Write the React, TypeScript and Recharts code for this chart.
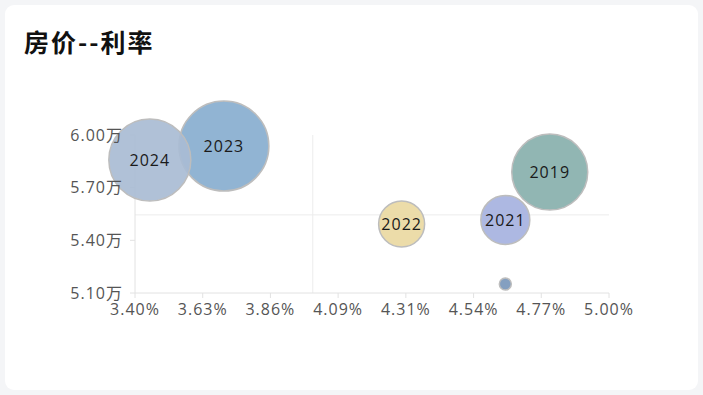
import {
  ScatterChart,
  Scatter,
  XAxis,
  YAxis,
  ZAxis,
  Cell,
  LabelList,
  ReferenceLine,
} from "recharts";

// 利率 (%), 房价 (万), bubble size
const years = ["2019", "2020", "2021", "2022", "2023", "2024"];
const labels = ["2019", "", "2021", "2022", "2023", "2024"];
const rates = [4.8, 4.65, 4.65, 4.3, 3.7, 3.45];
const prices = [5.789, 5.151, 5.516, 5.493, 5.937, 5.858];
const sizes = [1444, 36, 600, 529, 2025, 1681];
const colors = ["#88b0ad", "#7997bb", "#a6b2df", "#ead9a2", "#88aecf", "#a9bcd4"];

const xTicks = [3.4, 3.6286, 3.8571, 4.0857, 4.3143, 4.5429, 4.7714, 5.0];
const yTicks = [5.1, 5.4, 5.7, 6.0];
const rateLine = 4.0;
const priceLine = 5.545;

const data = years.map((year, i) => ({
  year,
  label: labels[i],
  x: rates[i],
  y: prices[i],
  z: sizes[i],
}));

const font = "'Open Sans', 'Noto Sans CJK SC', sans-serif";
const axisColor = "#e2e2e2";
const tickStyle = { fill: "#555", fontSize: 16, fontFamily: font, letterSpacing: 1 };

const App = () => {
  return (
    <div
      style={{
        position: "absolute",
        left: 0,
        top: 0,
        width: 703,
        height: 395,
        background: "#f4f5f7",
      }}
    >
      <div
        style={{
          position: "absolute",
          left: 5,
          top: 5,
          width: 693,
          height: 385,
          background: "#fff",
          borderRadius: 9,
        }}
      />
      <div
        style={{
          position: "absolute",
          left: 24,
          top: 23,
          fontSize: 25,
          fontWeight: 700,
          letterSpacing: 2,
          color: "#111",
          fontFamily: "'Noto Sans CJK SC', sans-serif",
        }}
      >
        房价--利率
      </div>
      <div style={{ position: "absolute", left: 0, top: 0 }}>
        <ScatterChart
          width={703}
          height={395}
          margin={{ top: 135, right: 94, bottom: 72, left: 75 }}
        >
          <XAxis
            type="number"
            dataKey="x"
            domain={[3.4, 5.0]}
            ticks={xTicks}
            interval={0}
            tickFormatter={(v: number) => `${v.toFixed(2)}%`}
            tick={tickStyle}
            tickSize={5}
            tickMargin={6}
            height={30}
            stroke={axisColor}
          />
          <YAxis
            type="number"
            dataKey="y"
            domain={[5.1, 6.0]}
            ticks={yTicks}
            interval={0}
            tickFormatter={(v: number) => `${v.toFixed(2)}万`}
            tick={tickStyle}
            tickSize={5}
            tickMargin={7}
            width={60}
            stroke={axisColor}
          />
          <ZAxis type="number" dataKey="z" domain={[0, 2025]} range={[0, 2025 * Math.PI]} />
          <ReferenceLine x={rateLine} stroke="#ececec" strokeWidth={1} />
          <ReferenceLine y={priceLine} stroke="#ececec" strokeWidth={1} />
          <Scatter data={data} isAnimationActive={false} stroke="#bdbdbd" strokeWidth={1.5}>
            {data.map((d, i) => (
              <Cell key={d.year} fill={colors[i]} fillOpacity={0.92} />
            ))}
            <LabelList
              dataKey="label"
              position="center"
              fill="#1a1a1a"
              fontSize={16}
              fontFamily={font}
              style={{ letterSpacing: 1 }}
            />
          </Scatter>
        </ScatterChart>
      </div>
    </div>
  );
};

export default App;
